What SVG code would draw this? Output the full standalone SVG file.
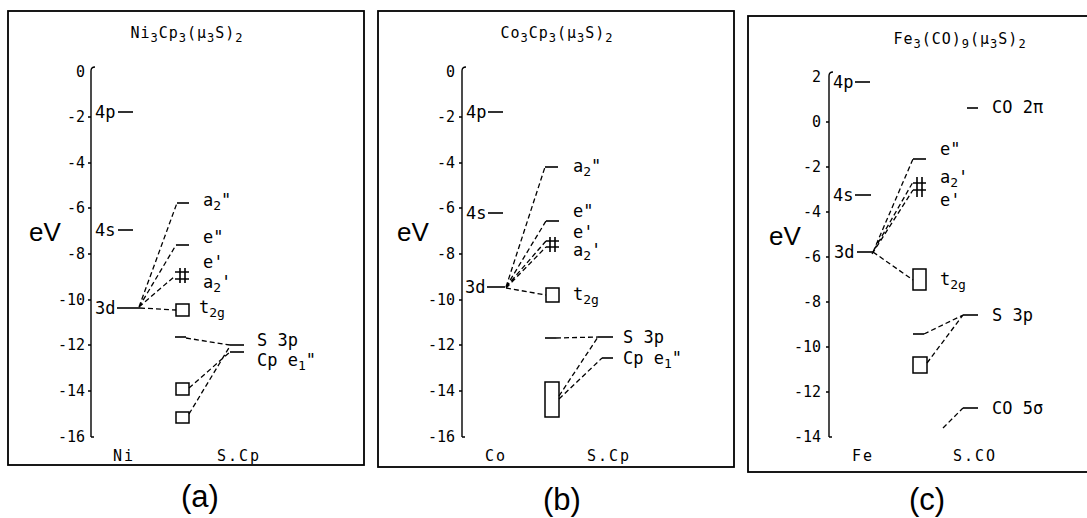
<svg xmlns="http://www.w3.org/2000/svg" width="1087" height="518" viewBox="0 0 1087 518">
<style>
.frame{fill:none;stroke:#000;stroke-width:1.8}
.axis{fill:none;stroke:#000;stroke-width:1.4}
.lvl{stroke:#000;stroke-width:1.6;fill:none}
.dash{stroke:#000;stroke-width:1.3;stroke-dasharray:5 3;fill:none}
.box{fill:#fff;stroke:#000;stroke-width:1.5}
.tk{font-family:"DejaVu Sans Mono",monospace;font-size:15px;text-anchor:end}
.lb{font-family:"DejaVu Sans Mono",monospace;font-size:17px}
.tt{font-family:"DejaVu Sans Mono",monospace;font-size:15px;letter-spacing:1px;text-anchor:middle}
.ax{font-family:"DejaVu Sans Mono",monospace;font-size:15px;letter-spacing:2px}
.ev{font-family:"Liberation Sans",Arial,sans-serif;font-size:26px}
.cap{font-family:"Liberation Sans",Arial,sans-serif;font-size:31px;text-anchor:middle}
.sb{font-size:12px}
</style>

<!-- Panel (a) -->
<g id="panel-a">
  <rect class="frame" x="8" y="11" width="356" height="454"/>
  <text class="tt" x="187" y="38">Ni<tspan class="sb" dy="4">3</tspan><tspan dy="-4">Cp</tspan><tspan class="sb" dy="4">3</tspan><tspan dy="-4">(μ</tspan><tspan class="sb" dy="4">3</tspan><tspan dy="-4">S)</tspan><tspan class="sb" dy="4">2</tspan></text>
  <g id="a-axis">
    <path class="axis" d="M91,437 L91,71 Q91,67 95,67"/>
    <path class="axis" d="M88,117h3M88,163h3M88,208h3M88,254h3M88,300h3M88,345h3M88,391h3M91,437h3"/>
    <text class="tk" x="85" y="77">0</text>
    <text class="tk" x="85" y="122">-2</text>
    <text class="tk" x="85" y="168">-4</text>
    <text class="tk" x="85" y="213">-6</text>
    <text class="tk" x="85" y="259">-8</text>
    <text class="tk" x="85" y="305">-10</text>
    <text class="tk" x="85" y="350">-12</text>
    <text class="tk" x="85" y="396">-14</text>
    <text class="tk" x="85" y="442">-16</text>
    <text class="ev" x="29" y="241">eV</text>
  </g>
  <g id="a-4p"><text class="lb" x="95" y="118">4p</text><line class="lvl" x1="118" y1="112" x2="133" y2="112"/></g>
  <g id="a-4s"><text class="lb" x="95" y="236">4s</text><line class="lvl" x1="118" y1="230" x2="133" y2="230"/></g>
  <g id="a-3d"><text class="lb" x="95" y="314">3d</text><line class="lvl" x1="117" y1="308" x2="140" y2="308"/></g>
  <g id="a-a2pp"><line class="lvl" x1="177" y1="203" x2="189" y2="203"/><text class="lb" x="203" y="206">a<tspan font-size="13" dy="4">2</tspan><tspan dy="-4">"</tspan></text></g>
  <g id="a-epp"><line class="lvl" x1="176" y1="245" x2="189" y2="245"/><text class="lb" x="203" y="243">e"</text></g>
  <g id="a-ep-a2p"><path class="lvl" d="M175,272h14M175,279h14M180,268v15M185,268v15"/><text class="lb" x="203" y="268">e'</text><text class="lb" x="203" y="288">a<tspan font-size="13" dy="4">2</tspan><tspan dy="-4">'</tspan></text></g>
  <g id="a-t2g"><rect class="box" x="176" y="304" width="13" height="12"/><text class="lb" x="199" y="313">t<tspan font-size="13" dy="4">2g</tspan></text></g>
  <g id="a-s-lvl"><line class="lvl" x1="175" y1="337" x2="186" y2="337"/></g>
  <g id="a-s3p"><line class="lvl" x1="230" y1="345" x2="244" y2="345"/><text class="lb" x="257" y="346">S 3p</text></g>
  <g id="a-cpe1"><line class="lvl" x1="230" y1="352" x2="244" y2="352"/><text class="lb" x="257" y="366">Cp e<tspan font-size="13" dy="4">1</tspan><tspan dy="-4">"</tspan></text></g>
  <g id="a-sq1"><rect class="box" x="176" y="383" width="13" height="12"/></g>
  <g id="a-sq2"><rect class="box" x="176" y="412" width="13" height="11"/></g>
  <g id="a-connectors">
    <path class="dash" d="M139,307L177,203M139,307L176,245M139,307L175,276M140,308L176,310M186,338L230,345M189,388L230,352M189,414L230,346"/>
  </g>
  <text class="ax" x="113" y="461">Ni</text>
  <text class="ax" x="217" y="461">S.Cp</text>
  <text class="cap" x="200" y="507">(a)</text>
</g>

<!-- Panel (b) -->
<g id="panel-b">
  <rect class="frame" x="378" y="11" width="356" height="456"/>
  <text class="tt" x="557" y="38">Co<tspan class="sb" dy="4">3</tspan><tspan dy="-4">Cp</tspan><tspan class="sb" dy="4">3</tspan><tspan dy="-4">(μ</tspan><tspan class="sb" dy="4">3</tspan><tspan dy="-4">S)</tspan><tspan class="sb" dy="4">2</tspan></text>
  <g id="b-axis">
    <path class="axis" d="M462,437 L462,71 Q462,67 466,67"/>
    <path class="axis" d="M459,117h3M459,163h3M459,208h3M459,254h3M459,300h3M459,345h3M459,391h3M462,437h3"/>
    <text class="tk" x="455" y="77">0</text>
    <text class="tk" x="455" y="122">-2</text>
    <text class="tk" x="455" y="168">-4</text>
    <text class="tk" x="455" y="213">-6</text>
    <text class="tk" x="455" y="259">-8</text>
    <text class="tk" x="455" y="305">-10</text>
    <text class="tk" x="455" y="350">-12</text>
    <text class="tk" x="455" y="396">-14</text>
    <text class="tk" x="455" y="442">-16</text>
    <text class="ev" x="397" y="241">eV</text>
  </g>
  <g id="b-4p"><text class="lb" x="466" y="118">4p</text><line class="lvl" x1="488" y1="112" x2="503" y2="112"/></g>
  <g id="b-4s"><text class="lb" x="466" y="219">4s</text><line class="lvl" x1="488" y1="213" x2="503" y2="213"/></g>
  <g id="b-3d"><text class="lb" x="465" y="293">3d</text><line class="lvl" x1="487" y1="287" x2="505" y2="287"/></g>
  <g id="b-a2pp"><line class="lvl" x1="545" y1="167" x2="558" y2="167"/><text class="lb" x="573" y="172">a<tspan font-size="13" dy="4">2</tspan><tspan dy="-4">"</tspan></text></g>
  <g id="b-epp"><line class="lvl" x1="546" y1="221" x2="559" y2="221"/><text class="lb" x="573" y="217">e"</text></g>
  <g id="b-ep-a2p"><path class="lvl" d="M546,241h13M546,247h13M550,237v15M555,237v15"/><text class="lb" x="573" y="238">e'</text><text class="lb" x="573" y="256">a<tspan font-size="13" dy="4">2</tspan><tspan dy="-4">'</tspan></text></g>
  <g id="b-t2g"><rect class="box" x="546" y="288" width="13" height="14"/><text class="lb" x="573" y="300">t<tspan font-size="13" dy="4">2g</tspan></text></g>
  <g id="b-s-lvl"><line class="lvl" x1="545" y1="338" x2="556" y2="338"/></g>
  <g id="b-s3p"><line class="lvl" x1="598" y1="337" x2="613" y2="337"/><text class="lb" x="623" y="343">S 3p</text></g>
  <g id="b-cpe1"><line class="lvl" x1="602" y1="358" x2="613" y2="358"/><text class="lb" x="623" y="364">Cp e<tspan font-size="13" dy="4">1</tspan><tspan dy="-4">"</tspan></text></g>
  <g id="b-block"><rect class="box" x="545" y="382" width="14" height="35"/></g>
  <g id="b-connectors">
    <path class="dash" d="M506,287L545,167M506,287L546,221M506,287L546,241M506,288L546,247M506,288L546,295M556,338L598,337M559,396L598,337M559,399L602,358"/>
  </g>
  <text class="ax" x="485" y="461">Co</text>
  <text class="ax" x="587" y="461">S.Cp</text>
  <text class="cap" x="562" y="510">(b)</text>
</g>

<!-- Panel (c) -->
<g id="panel-c">
  <rect class="frame" x="748" y="16" width="344" height="456"/>
  <text class="tt" x="960" y="44">Fe<tspan class="sb" dy="4">3</tspan><tspan dy="-4">(CO)</tspan><tspan class="sb" dy="4">9</tspan><tspan dy="-4">(μ</tspan><tspan class="sb" dy="4">3</tspan><tspan dy="-4">S)</tspan><tspan class="sb" dy="4">2</tspan></text>
  <g id="c-axis">
    <path class="axis" d="M829,437 L829,76 Q829,72 833,72"/>
    <path class="axis" d="M826,122h3M826,167h3M826,212h3M826,257h3M826,302h3M826,347h3M826,392h3M829,437h3"/>
    <text class="tk" x="821" y="82">2</text>
    <text class="tk" x="821" y="127">0</text>
    <text class="tk" x="821" y="172">-2</text>
    <text class="tk" x="821" y="217">-4</text>
    <text class="tk" x="821" y="262">-6</text>
    <text class="tk" x="821" y="307">-8</text>
    <text class="tk" x="821" y="352">-10</text>
    <text class="tk" x="821" y="397">-12</text>
    <text class="tk" x="821" y="442">-14</text>
    <text class="ev" x="769" y="245">eV</text>
  </g>
  <g id="c-4p"><text class="lb" x="833" y="88">4p</text><line class="lvl" x1="855" y1="82" x2="870" y2="82"/></g>
  <g id="c-4s"><text class="lb" x="833" y="201">4s</text><line class="lvl" x1="855" y1="195" x2="871" y2="195"/></g>
  <g id="c-3d"><text class="lb" x="834" y="258">3d</text><line class="lvl" x1="857" y1="252" x2="873" y2="252"/></g>
  <g id="c-co2pi"><line class="lvl" x1="967" y1="108" x2="978" y2="108"/><text class="lb" x="992" y="113">CO 2π</text></g>
  <g id="c-epp"><line class="lvl" x1="913" y1="159" x2="926" y2="159"/><text class="lb" x="940" y="155">e"</text></g>
  <g id="c-a2p-ep"><path class="lvl" d="M913,183h13M913,190h13M917,177v20M922,177v20"/><text class="lb" x="940" y="183">a<tspan font-size="13" dy="4">2</tspan><tspan dy="-4">'</tspan></text><text class="lb" x="940" y="206">e'</text></g>
  <g id="c-t2g"><rect class="box" x="913" y="269" width="13" height="21"/><text class="lb" x="940" y="285">t<tspan font-size="13" dy="4">2g</tspan></text></g>
  <g id="c-s-lvl"><line class="lvl" x1="913" y1="334" x2="924" y2="334"/></g>
  <g id="c-s3p"><line class="lvl" x1="963" y1="315" x2="978" y2="315"/><text class="lb" x="992" y="321">S 3p</text></g>
  <g id="c-sq"><rect class="box" x="913" y="357" width="14" height="16"/></g>
  <g id="c-co5s"><line class="lvl" x1="963" y1="408" x2="978" y2="408"/><text class="lb" x="992" y="414">CO 5σ</text></g>
  <g id="c-connectors">
    <path class="dash" d="M873,252L913,159M874,250L913,182M872,254L913,190M873,252L913,280M924,334L963,315M927,363L963,315M943,428L963,408"/>
  </g>
  <text class="ax" x="852" y="461">Fe</text>
  <text class="ax" x="953" y="461">S.CO</text>
  <text class="cap" x="927" y="510">(c)</text>
</g>
</svg>
